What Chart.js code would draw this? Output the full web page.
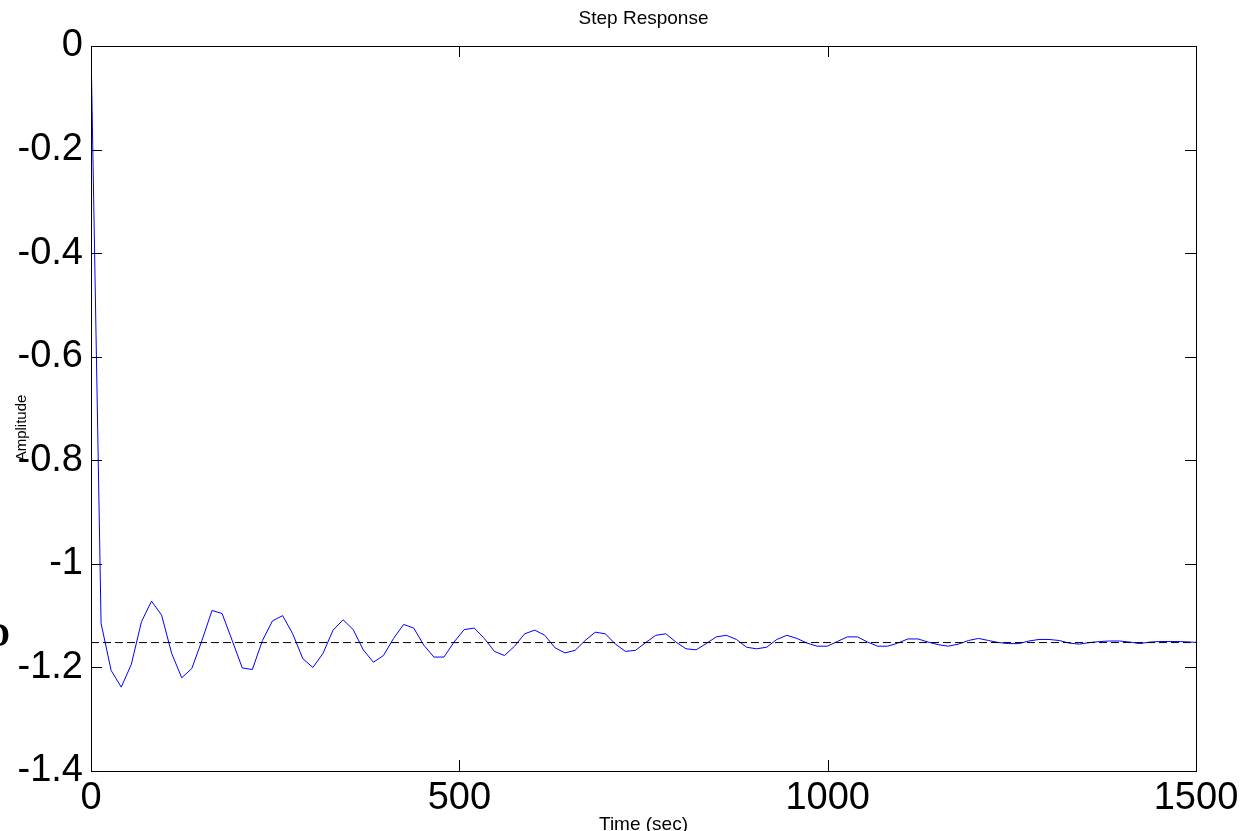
<!DOCTYPE html>
<html>
<head>
<meta charset="utf-8">
<title>Step Response</title>
<script src="https://cdn.jsdelivr.net/npm/chart.js@4"></script>
<style>
  html, body { margin: 0; padding: 0; background: #fff; }
  canvas { display: block; }
</style>
</head>
<body>
<canvas id="grafico" width="1260" height="831"></canvas>
<script>
// Dados da resposta ao degrau (amostras a cada dt segundos)
const dt = 13.69;
const amplitude = [
  0, -1.115, -1.206, -1.238, -1.194, -1.112, -1.072, -1.099, -1.173, -1.220,
  -1.202, -1.148, -1.090, -1.096, -1.148, -1.201, -1.204, -1.148, -1.110, -1.100,
  -1.135, -1.183, -1.200, -1.173, -1.128, -1.108, -1.127, -1.166, -1.190, -1.177,
  -1.144, -1.117, -1.124, -1.157, -1.180, -1.180, -1.151, -1.127, -1.124, -1.144,
  -1.169, -1.177, -1.159, -1.135, -1.128, -1.138, -1.162, -1.172, -1.167, -1.148,
  -1.132, -1.135, -1.155, -1.169, -1.167, -1.152, -1.138, -1.135, -1.151, -1.164,
  -1.166, -1.154, -1.141, -1.138, -1.146, -1.161, -1.164, -1.161, -1.146, -1.138,
  -1.144, -1.153, -1.159, -1.159, -1.150, -1.141, -1.141, -1.151, -1.159, -1.159,
  -1.153, -1.145, -1.145, -1.151, -1.156, -1.159, -1.155, -1.148, -1.144, -1.148,
  -1.152, -1.154, -1.154, -1.149, -1.146, -1.146, -1.148, -1.153, -1.155, -1.152,
  -1.150, -1.149, -1.149, -1.151, -1.154, -1.151, -1.150, -1.150, -1.150, -1.151,
  -1.152
];
const valorFinal = -1.152;
const xTicks = [0, 500, 1000, 1500];
const yTicks = [0, -0.2, -0.4, -0.6, -0.8, -1, -1.2, -1.4];

const fonte = '"Liberation Sans", Arial, Helvetica, sans-serif';
const pontos = amplitude.map((v, i) => ({ x: i * dt, y: v }));

// Moldura estilo MATLAB: caixa, ticks para dentro, títulos
const moldura = {
  id: "moldura",
  beforeDraw(chart) {
    const ctx = chart.ctx;
    ctx.save();
    ctx.fillStyle = "#fff";
    ctx.fillRect(0, 0, chart.width, chart.height);
    ctx.restore();
  },
  afterDraw(chart) {
    const ctx = chart.ctx;
    const a = chart.chartArea;
    const sx = chart.scales.x;
    const sy = chart.scales.y;
    const tam = 11;
    ctx.save();
    ctx.strokeStyle = "#000";
    ctx.lineWidth = 1;
    ctx.beginPath();
    xTicks.forEach((v) => {
      const px = Math.round(sx.getPixelForValue(v)) + 0.5;
      ctx.moveTo(px, a.bottom);
      ctx.lineTo(px, a.bottom - tam);
      ctx.moveTo(px, a.top);
      ctx.lineTo(px, a.top + tam);
    });
    yTicks.forEach((v) => {
      const py = Math.round(sy.getPixelForValue(v)) + 0.5;
      ctx.moveTo(a.left, py);
      ctx.lineTo(a.left + tam, py);
      ctx.moveTo(a.right, py);
      ctx.lineTo(a.right - tam, py);
    });
    ctx.stroke();
    ctx.strokeRect(Math.round(a.left) + 0.5, Math.round(a.top) + 0.5,
      Math.round(a.right - a.left), Math.round(a.bottom - a.top));

    ctx.fillStyle = "#000";
    ctx.font = "19px " + fonte;
    ctx.textAlign = "center";
    ctx.textBaseline = "alphabetic";
    const cx = (a.left + a.right) / 2;
    ctx.fillText("Step Response", cx, 24);
    ctx.fillText("Time (sec)", cx, 830);

    ctx.save();
    ctx.font = "15px " + fonte;
    ctx.translate(26, 428);
    ctx.rotate(-Math.PI / 2);
    ctx.fillText("Amplitude", 0, 0);
    ctx.restore();

    // letra cortada na borda esquerda
    ctx.font = 'bold 34px "Liberation Serif", "Times New Roman", serif';
    ctx.textAlign = "right";
    ctx.fillText("D", 10, 646);
    ctx.restore();
  },
};

const grafico = new Chart(document.getElementById("grafico"), {
  type: "line",
  data: {
    datasets: [
      {
        label: "Valor final",
        data: [
          { x: xTicks[0], y: valorFinal },
          { x: xTicks[xTicks.length - 1], y: valorFinal },
        ],
        borderColor: "#000",
        borderWidth: 1,
        borderDash: [8, 4],
        pointRadius: 0,
        fill: false,
      },
      {
        label: "Amplitude",
        data: pontos,
        borderColor: "#0000ff",
        borderWidth: 1,
        pointRadius: 0,
        tension: 0,
        fill: false,
      },
    ],
  },
  options: {
    responsive: false,
    animation: false,
    devicePixelRatio: 1,
    layout: { padding: { left: 0, top: 46, right: 64, bottom: 0 } },
    plugins: {
      legend: { display: false },
      tooltip: { enabled: false },
      title: { display: false },
    },
    scales: {
      x: {
        type: "linear",
        min: 0,
        max: 1500,
        grid: { display: false, drawTicks: false },
        border: { display: false },
        afterBuildTicks: (s) => { s.ticks = xTicks.map((v) => ({ value: v })); },
        afterFit: (s) => { s.height = 60; },
        ticks: {
          color: "#000",
          font: { family: fonte, size: 38 },
          padding: 5,
          maxRotation: 0,
          autoSkip: false,
          callback: (v) => String(v),
        },
      },
      y: {
        type: "linear",
        min: -1.4,
        max: 0,
        grid: { display: false, drawTicks: false },
        border: { display: false },
        afterBuildTicks: (s) => { s.ticks = yTicks.map((v) => ({ value: v })); },
        afterFit: (s) => { s.width = 91; },
        ticks: {
          color: "#000",
          font: { family: fonte, size: 38 },
          padding: 8,
          autoSkip: false,
          callback: (v) => {
            const r = Math.round(v * 10) / 10;
            return r === 0 ? "0" : String(r);
          },
        },
      },
    },
  },
  plugins: [moldura],
});
</script>
</body>
</html>
